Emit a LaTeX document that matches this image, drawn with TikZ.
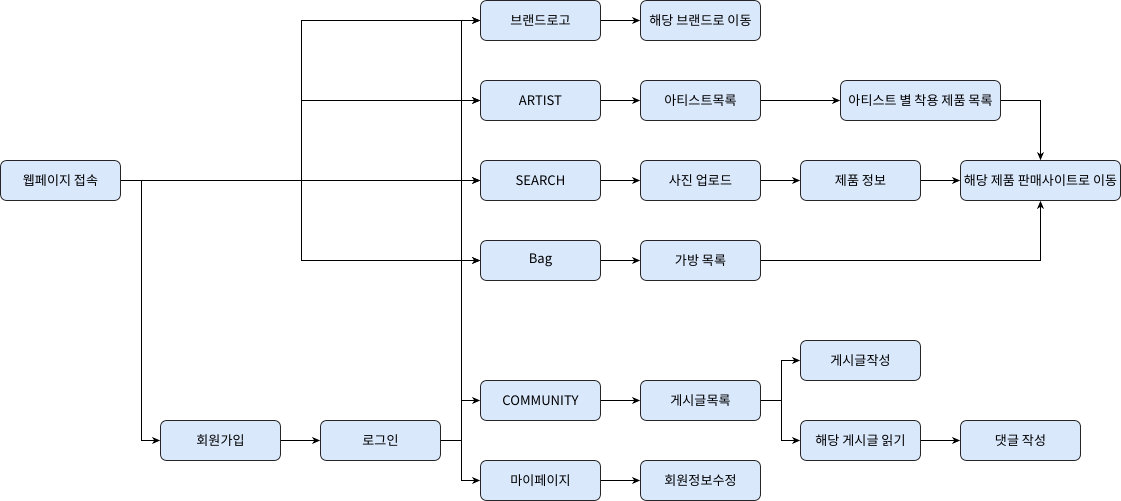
\documentclass[tikz,border=0pt]{standalone}
\usepackage{fontspec}
\setmainfont{Noto Sans CJK KR}
\usetikzlibrary{arrows.meta}

\tikzset{
  box/.style={rectangle,draw=black!85,fill=boxblue,rounded corners=0.15cm,line width=0.6pt,
    minimum height=1cm,minimum width=3cm,inner sep=1pt,font=\fontsize{9.3}{11}\selectfont},
  widebox/.style={box,minimum width=4cm},
  arr/.style={line width=0.6pt,-{Stealth[length=2mm,width=1.7mm,inset=0.6mm]}}
}
\definecolor{boxblue}{HTML}{DAE8FC}

\begin{document}
\begin{tikzpicture}[x=0.025cm,y=-0.025cm]
\useasboundingbox (-0.5,-0.5) rectangle (1120.5,500.5);

% start
\node[box] at(60,180) (start) {웹페이지 접속};

% column 1
\node[box] at(220,440) (join) {회원가입};
\node[box] at(380,440) (login) {로그인};

% column 2
\node[box] at(540,20) (brand) {브랜드로고};
\node[box] at(540,100) (artist) {ARTIST};
\node[box] at(540,180) (search) {SEARCH};
\node[box] at(540,260) (bag) {Bag};
\node[box] at(540,400) (community) {COMMUNITY};
\node[box] at(540,480) (mypage) {마이페이지};

% column 3
\node[box] at(700,20) (brandgo) {해당 브랜드로 이동};
\node[box] at(700,100) (artlist) {아티스트목록};
\node[box] at(700,180) (photo) {사진 업로드};
\node[box] at(700,260) (baglist) {가방 목록};
\node[box] at(700,400) (postlist) {게시글목록};
\node[box] at(700,480) (profile) {회원정보수정};

% column 4
\node[widebox] at(920,100) (artprod) {아티스트 별 착용 제품 목록};
\node[box] at(860,180) (prodinfo) {제품 정보};
\node[box] at(860,360) (postwrite) {게시글작성};
\node[box] at(860,440) (postread) {해당 게시글 읽기};

% column 5
\node[widebox] at(1040,180) (shop) {해당 제품 판매사이트로 이동};
\node[box] at(1020,440) (comment) {댓글 작성};

%From start
\draw[arr] (start.east) -- (search.west);
\draw[arr] (start.east) -- ++(180,0) |- (brand.west);
\draw[arr] (start.east) -- ++(180,0) |- (artist.west);
\draw[arr] (start.east) -- ++(180,0) |- (bag.west);
\draw[arr] (start.east) -- ++(20,0) |- (join.west);
\draw[arr] (join) -- (login);

%From login
\draw[arr] (login.east) -- ++(20,0) |- (brand.west);
\draw[arr] (login.east) -- ++(20,0) |- (artist.west);
\draw[arr] (login.east) -- ++(20,0) |- (search.west);
\draw[arr] (login.east) -- ++(20,0) |- (bag.west);
\draw[arr] (login.east) -- ++(20,0) |- (community.west);
\draw[arr] (login.east) -- ++(20,0) |- (mypage.west);

%Menus
\draw[arr] (brand) -- (brandgo);
\draw[arr] (artist) -- (artlist);
\draw[arr] (artlist) -- (artprod);
\draw[arr] (search) -- (photo);
\draw[arr] (photo) -- (prodinfo);
\draw[arr] (prodinfo) -- (shop);
\draw[arr] (bag) -- (baglist);
\draw[arr] (artprod.east) -| (shop.north);
\draw[arr] (baglist.east) -| (shop.south);

%Community
\draw[arr] (community) -- (postlist);
\draw[arr] (postlist.east) -- ++(20,0) |- (postwrite.west);
\draw[arr] (postlist.east) -- ++(20,0) |- (postread.west);
\draw[arr] (postread) -- (comment);
\draw[arr] (mypage) -- (profile);

\end{tikzpicture}
\end{document}
